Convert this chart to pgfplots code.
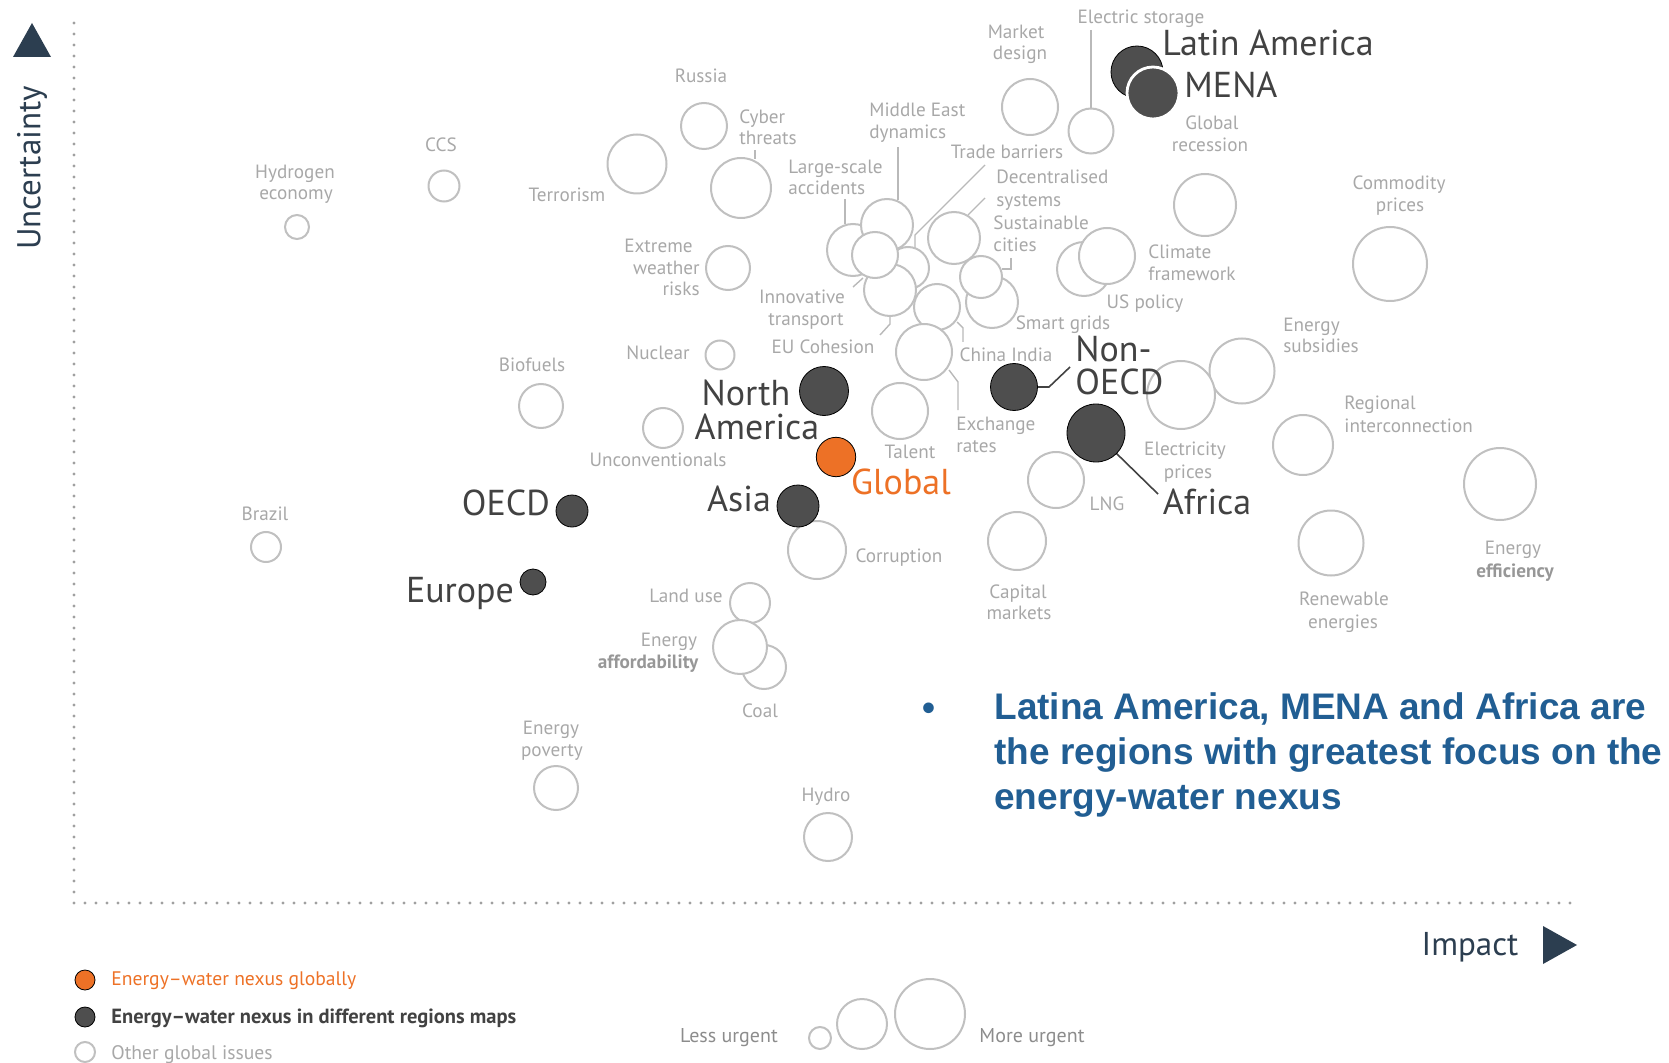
\documentclass[border=0pt]{standalone}
\usepackage{pgfplots}
\pgfplotsset{compat=1.18}
\usepackage{pgfplotstable}
\usepackage{fontspec}
\setmainfont{PT Sans}
\newfontfamily\arialf{Liberation Sans}
\definecolor{navy}{RGB}{44,62,80}
\definecolor{ringgray}{RGB}{192,192,192}
\definecolor{labelgray}{RGB}{168,168,168}
\definecolor{leadgray}{RGB}{185,185,185}
\definecolor{darkfill}{RGB}{78,78,78}
\definecolor{darktext}{RGB}{66,66,66}
\definecolor{orangec}{RGB}{237,113,38}
\definecolor{bluet}{RGB}{33,94,147}
\definecolor{dotgray}{RGB}{160,160,160}
\definecolor{urggray}{RGB}{140,140,140}

\tikzset{
  lbl/.style={font=\fontsize{9.6}{11}\selectfont, text=labelgray, inner sep=0pt, text height=6.4pt, text depth=0pt},
  lblb/.style={lbl, font=\fontsize{9.6}{11}\selectfont\bfseries, text=labelgray!90!black},
  big/.style={font=\fontsize{18}{20}\selectfont, text=darktext, inner sep=0pt, text height=12pt, text depth=0pt},
  msg/.style={font=\arialf\bfseries\fontsize{18.5}{20}\selectfont, text=bluet, inner sep=0pt, text height=13.2pt, text depth=0pt},
}

% open circles: other global issues (x, y in reference pixels, r radius in pixels)
\pgfplotstableread{
x y r
297 227 12
444 186 15.5
637 164 29.5
704 126 23
741 188 30
1030 107 28
1091 131 22.5
728 268 22
720 355 14.5
541 406 22
663 428 20
266 547 15
853 250 26
887 225 26
908 268 21
890 290 26
875 255 23
954 238 26
937 307 23
992 302 26
981 277 21
924 352 28
900 411 28
1084 269 27
1107 256 28
1205 205 31
1390 264 37
1242 371 32.5
1181 395 34
1303 445 30
1500 484 36
1331 543 32.5
1056 480 28
1017 541 29
817 550 29
750 603 20
764 667 22
740 647 27
556 788 22
828 837 24
}\opencircles

% dark circles: energy-water nexus in regions
\pgfplotstableread{
x y r
1137 72 26
1014 387 23.5
1096 433 29
824 391 24.5
798 506 21
572 511 16
533 582 13
}\darkcircles

\pgfplotstableread{
x y r
1153 93 26
}\menacircle

\pgfplotstableread{
x y r
836 457 19.7
}\globalcircle

% legend markers
\pgfplotstableread{
x y r
85 1052 10
820 1038 11
862 1024 25
930 1014 35
}\legopen
\pgfplotstableread{
x y r
85 1017 10
}\legdark
\pgfplotstableread{
x y r
85 980 10
}\legorange

\begin{document}
\begin{tikzpicture}
\begin{axis}[
  width=834.5pt, height=531pt, scale only axis,
  xmin=0, xmax=1669, ymin=0, ymax=1062, y dir=reverse,
  hide axis, clip=false, set layers,
  bub/.style={scatter, only marks, mark=*,
    visualization depends on={\thisrow{r} \as \perpointmarksize},
    scatter/@pre marker code/.code={\pgfmathsetlength{\pgfplotmarksize}{0.5*\perpointmarksize}\scope[#1]},
    scatter/@post marker code/.code={\endscope}},
  lead/.style={leadgray, line width=0.7pt, mark=none},
]
% axes (dotted)
\addplot[dotgray, line width=1.6pt, line cap=round, dash pattern=on 0pt off 5.5pt, mark=none]
  coordinates {(74,23) (74,903) (1578,903)};
% arrows
\addplot[fill=navy, draw=none, mark=none] coordinates {(13,57) (32,23) (51,57)} -- cycle;
\addplot[fill=navy, draw=none, mark=none] coordinates {(1543,926) (1577,945) (1543,964)} -- cycle;

% leader lines
\addplot[lead] coordinates {(755,150) (755,159)};
\addplot[lead] coordinates {(1091,30) (1091,108)};
\addplot[lead] coordinates {(898,147) (898,200)};
\addplot[lead] coordinates {(845,199) (845,224)};
\addplot[lead] coordinates {(985,165) (915,235) (915,248)};
\addplot[lead] coordinates {(985,198) (968,215)};
\addplot[lead] coordinates {(1011,258) (1011,269) (1002,269)};
\addplot[lead] coordinates {(853,287) (863,278)};
\addplot[lead] coordinates {(880,335) (890,324) (890,315)};
\addplot[lead] coordinates {(957,322) (963,328) (963,342)};
\addplot[lead] coordinates {(949,370) (958,382) (958,410)};
\addplot[darktext, line width=0.8pt, mark=none] coordinates {(1038,387) (1049,387) (1070,367)};
\addplot[darktext, line width=0.8pt, mark=none] coordinates {(1116,453) (1158,494)};

% bubbles
\addplot[bub={draw=ringgray, fill=white, line width=1pt}] table[x=x,y=y] {\opencircles};
\addplot[bub={draw=none, fill=darkfill}] table[x=x,y=y] {\darkcircles};
\addplot[bub={draw=white, fill=darkfill, line width=1.4pt}] table[x=x,y=y] {\menacircle};
\addplot[bub={draw=none, fill=orangec}] table[x=x,y=y] {\globalcircle};
\addplot[bub={draw=ringgray, fill=white, line width=1pt}] table[x=x,y=y] {\legopen};
\addplot[bub={draw=none, fill=darkfill}] table[x=x,y=y] {\legdark};
\addplot[bub={draw=none, fill=orangec}] table[x=x,y=y] {\legorange};

\begin{pgfonlayer}{axis foreground}
% gray labels
\node[lbl] at (axis cs:295,172) {Hydrogen};
\node[lbl] at (axis cs:296,193) {economy};
\node[lbl] at (axis cs:441,145) {CCS};
\node[lbl] at (axis cs:567,195) {Terrorism};
\node[lbl] at (axis cs:701,76) {Russia};
\node[lbl, anchor=west] at (axis cs:739,117) {Cyber};
\node[lbl, anchor=west] at (axis cs:739,138) {threats};
\node[lbl] at (axis cs:1016,32) {Market};
\node[lbl] at (axis cs:1020,53) {design};
\node[lbl] at (axis cs:1141,17) {Electric storage};
\node[lbl, anchor=west] at (axis cs:869,110) {Middle East};
\node[lbl, anchor=west] at (axis cs:869,132) {dynamics};
\node[lbl] at (axis cs:1007,152) {Trade barriers};
\node[lbl, anchor=west] at (axis cs:788,167) {Large-scale};
\node[lbl, anchor=west] at (axis cs:788,188) {accidents};
\node[lbl, anchor=west] at (axis cs:996,177) {Decentralised};
\node[lbl, anchor=west] at (axis cs:996,200) {systems};
\node[lbl, anchor=west] at (axis cs:993,223) {Sustainable};
\node[lbl, anchor=west] at (axis cs:993,245) {cities};
\node[lbl, anchor=east] at (axis cs:693,246) {Extreme};
\node[lbl, anchor=east] at (axis cs:700,268) {weather};
\node[lbl, anchor=east] at (axis cs:700,289) {risks};
\node[lbl] at (axis cs:802,297) {Innovative};
\node[lbl] at (axis cs:806,319) {transport};
\node[lbl] at (axis cs:823,347) {EU Cohesion};
\node[lbl] at (axis cs:658,353) {Nuclear};
\node[lbl] at (axis cs:1006,355) {China India};
\node[lbl] at (axis cs:1063,323) {Smart grids};
\node[lbl] at (axis cs:1145,302) {US policy};
\node[lbl, anchor=west] at (axis cs:1148,252) {Climate};
\node[lbl, anchor=west] at (axis cs:1148,274) {framework};
\node[lbl] at (axis cs:1212,123) {Global};
\node[lbl] at (axis cs:1210,145) {recession};
\node[lbl] at (axis cs:1399,183) {Commodity};
\node[lbl] at (axis cs:1400,205) {prices};
\node[lbl, anchor=west] at (axis cs:1283,325) {Energy};
\node[lbl, anchor=west] at (axis cs:1283,346) {subsidies};
\node[lbl] at (axis cs:532,365) {Biofuels};
\node[lbl] at (axis cs:658,460) {Unconventionals};
\node[lbl] at (axis cs:910,452) {Talent};
\node[lbl, anchor=west] at (axis cs:956,424) {Exchange};
\node[lbl, anchor=west] at (axis cs:956,446) {rates};
\node[lbl] at (axis cs:1185,449) {Electricity};
\node[lbl] at (axis cs:1188,472) {prices};
\node[lbl, anchor=west] at (axis cs:1344,403) {Regional};
\node[lbl, anchor=west] at (axis cs:1344,426) {interconnection};
\node[lbl] at (axis cs:1107,504) {LNG};
\node[lbl] at (axis cs:265,514) {Brazil};
\node[lbl] at (axis cs:899,556) {Corruption};
\node[lbl] at (axis cs:1018,592) {Capital};
\node[lbl] at (axis cs:1019,613) {markets};
\node[lbl] at (axis cs:1513,548) {Energy};
\node[lblb] at (axis cs:1515,571) {efficiency};
\node[lbl] at (axis cs:1344,599) {Renewable};
\node[lbl] at (axis cs:1343,622) {energies};
\node[lbl] at (axis cs:686,596) {Land use};
\node[lbl] at (axis cs:669,640) {Energy};
\node[lblb] at (axis cs:648,662) {affordability};
\node[lbl] at (axis cs:760,711) {Coal};
\node[lbl] at (axis cs:551,728) {Energy};
\node[lbl] at (axis cs:552,750) {poverty};
\node[lbl] at (axis cs:826,795) {Hydro};

% big labels
\node[big] at (axis cs:1268,44) {Latin America};
\node[big] at (axis cs:1231,86) {MENA};
\node[font=\fontsize{18}{16.5}\selectfont, text=darktext, inner sep=0pt, align=left, anchor=north west] at (axis cs:1075,336) {Non-\\OECD};
\node[big] at (axis cs:746,394) {North};
\node[big] at (axis cs:757,427) {America};
\node[big, text=orangec] at (axis cs:901,482) {Global};
\node[big] at (axis cs:739,499) {Asia};
\node[big] at (axis cs:506,503) {OECD};
\node[big] at (axis cs:460,590) {Europe};
\node[big] at (axis cs:1207,502) {Africa};

% axis titles
\node[font=\fontsize{16.5}{18}\selectfont, text=navy, inner sep=0pt, text height=11.3pt, text depth=0pt, rotate=90] at (axis cs:29,168) {Uncertainty};
\node[font=\fontsize{16.5}{18}\selectfont, text=navy, inner sep=0pt, text height=11.3pt, text depth=0pt] at (axis cs:1470,944) {Impact};

% legend
\node[font=\fontsize{9.8}{12}\selectfont, text=orangec, inner sep=0pt, text height=7pt, text depth=0pt, anchor=west] at (axis cs:111,978) {Energy–water nexus globally};
\node[font=\fontsize{10.25}{12}\selectfont\bfseries, text=darktext, inner sep=0pt, text height=7pt, text depth=0pt, anchor=west] at (axis cs:111,1016) {Energy–water nexus in different regions maps};
\node[font=\fontsize{9.8}{12}\selectfont, text=labelgray, inner sep=0pt, text height=7pt, text depth=0pt, anchor=west] at (axis cs:111,1052) {Other global issues};
\node[font=\fontsize{10}{11}\selectfont, text=urggray, inner sep=0pt, text height=6.8pt, text depth=0pt] at (axis cs:729,1036) {Less urgent};
\node[font=\fontsize{10}{11}\selectfont, text=urggray, inner sep=0pt, text height=6.8pt, text depth=0pt] at (axis cs:1032,1036) {More urgent};

% key message
\node[msg] at (axis cs:929,707) {•};
\node[msg, anchor=west] at (axis cs:994,706) {Latina America, MENA and Africa are};
\node[msg, anchor=west] at (axis cs:994,751) {the regions with greatest focus on the};
\node[msg, anchor=west] at (axis cs:994,796) {energy-water nexus};
\end{pgfonlayer}
\end{axis}
\pgfresetboundingbox
\path (current axis.south west) rectangle (current axis.north east);
\end{tikzpicture}
\end{document}
